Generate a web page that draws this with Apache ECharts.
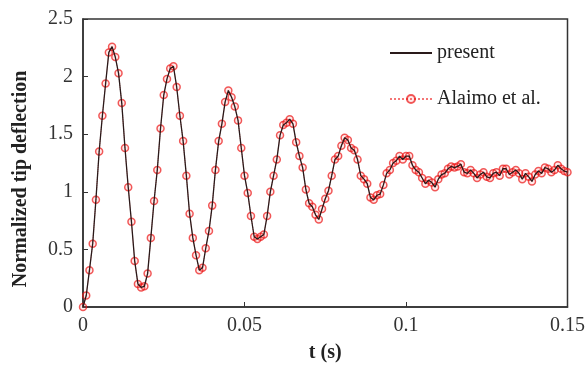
<!DOCTYPE html>
<html>
<head>
<meta charset="utf-8">
<script src="https://cdn.jsdelivr.net/npm/echarts@6/dist/echarts.min.js"></script>
<style>
  html, body { margin: 0; padding: 0; background: #fff; }
  #tipChart { width: 588px; height: 369px; }
</style>
</head>
<body>
<div id="tipChart"></div>
<script>
// time step of the samples (s), one point per millisecond
const timeStep = 0.001;
const xTicks = [0, 0.05, 0.1, 0.15];
const yTicks = [0, 0.5, 1, 1.5, 2, 2.5];
const seriesNames = ['present', 'Alaimo et al.'];

// normalized tip deflection, t = 0 .. 0.15 s
const alaimoValues = [
  0.00, 0.10, 0.32, 0.55, 0.93, 1.35, 1.66, 1.94, 2.21, 2.26,
  2.17, 2.03, 1.77, 1.38, 1.04, 0.74, 0.40, 0.20, 0.17, 0.18,
  0.29, 0.60, 0.92, 1.19, 1.55, 1.84, 1.98, 2.07, 2.09, 1.91,
  1.66, 1.44, 1.14, 0.81, 0.60, 0.45, 0.32, 0.34, 0.51, 0.66,
  0.88, 1.19, 1.44, 1.59, 1.78, 1.88, 1.82, 1.74, 1.62, 1.38,
  1.14, 0.99, 0.79, 0.61, 0.59, 0.61, 0.63, 0.79, 1.00, 1.14,
  1.28, 1.49, 1.58, 1.60, 1.63, 1.59, 1.43, 1.31, 1.21, 1.02,
  0.90, 0.87, 0.80, 0.76, 0.85, 0.94, 1.01, 1.14, 1.28, 1.31,
  1.40, 1.47, 1.45, 1.38, 1.36, 1.28, 1.14, 1.11, 1.07, 0.95,
  0.93, 0.97, 0.98, 1.06, 1.16, 1.19, 1.25, 1.27, 1.31, 1.28,
  1.31, 1.31, 1.23, 1.19, 1.17, 1.12, 1.07, 1.10, 1.08, 1.04,
  1.11, 1.15, 1.16, 1.20, 1.22, 1.21, 1.22, 1.24, 1.17, 1.16,
  1.19, 1.16, 1.12, 1.15, 1.17, 1.13, 1.12, 1.16, 1.17, 1.14,
  1.20, 1.20, 1.15, 1.17, 1.19, 1.16, 1.11, 1.16, 1.13, 1.09,
  1.15, 1.18, 1.16, 1.21, 1.20, 1.17, 1.19, 1.23, 1.20, 1.18,
  1.17
];
// the present solution follows the reference points
const presentValues = alaimoValues;

const toPairs = (vals) => vals.map((v, i) => [+(i * timeStep).toFixed(3), v]);

const serif = 'Liberation Serif, Times New Roman, serif';

const option = {
  animation: false,
  grid: {
    left: 83, right: 17, top: 19, bottom: 62,
    show: true, borderColor: '#333', borderWidth: 1.5
  },
  legend: {
    orient: 'vertical',
    left: 384, top: 38,
    itemWidth: 42, itemHeight: 10, itemGap: 26,
    data: [
      { name: seriesNames[0], itemStyle: { opacity: 0 } },
      { name: seriesNames[1] }
    ],
    textStyle: { fontFamily: serif, fontSize: 20, color: '#222', lineHeight: 20 }
  },
  xAxis: {
    type: 'value',
    min: xTicks[0], max: xTicks[xTicks.length - 1], interval: 0.05,
    name: 't (s)', nameLocation: 'middle', nameGap: 36,
    nameTextStyle: { fontFamily: serif, fontSize: 20, fontWeight: 'bold', color: '#222' },
    axisLine: { lineStyle: { color: '#333', width: 1.5 } },
    axisTick: { inside: true, length: 5, lineStyle: { color: '#333' } },
    axisLabel: { fontFamily: serif, fontSize: 20, color: '#333', margin: 9 },
    splitLine: { show: false }
  },
  yAxis: {
    type: 'value',
    min: yTicks[0], max: yTicks[yTicks.length - 1], interval: 0.5,
    name: 'Normalized tip deflection', nameLocation: 'middle', nameGap: 52,
    nameTextStyle: {
      fontFamily: serif, fontSize: 20, fontWeight: 'bold', color: '#222',
      padding: [0, 32, 0, 0]
    },
    axisLine: { show: true, lineStyle: { color: '#333', width: 1.5 } },
    axisTick: { show: true, inside: true, length: 5, lineStyle: { color: '#333' } },
    axisLabel: { fontFamily: serif, fontSize: 20, color: '#333', margin: 10 },
    splitLine: { show: false }
  },
  series: [
    {
      name: seriesNames[1],
      type: 'line',
      data: toPairs(alaimoValues),
      symbol: 'circle',
      symbolSize: 7,
      z: 2,
      lineStyle: { color: 'rgba(240,60,60,0.7)', width: 1, type: 'dotted' },
      itemStyle: {
        color: 'rgba(255,120,120,0.15)',
        borderColor: 'rgba(235,20,20,0.7)',
        borderWidth: 1.5
      }
    },
    {
      name: seriesNames[0],
      type: 'line',
      data: toPairs(presentValues),
      symbol: 'none',
      z: 3,
      lineStyle: { color: '#2a1a1a', width: 1.3 },
      itemStyle: { color: '#2a1a1a' }
    }
  ]
};

const chart = echarts.init(document.getElementById('tipChart'));
chart.setOption(option);
</script>
</body>
</html>
